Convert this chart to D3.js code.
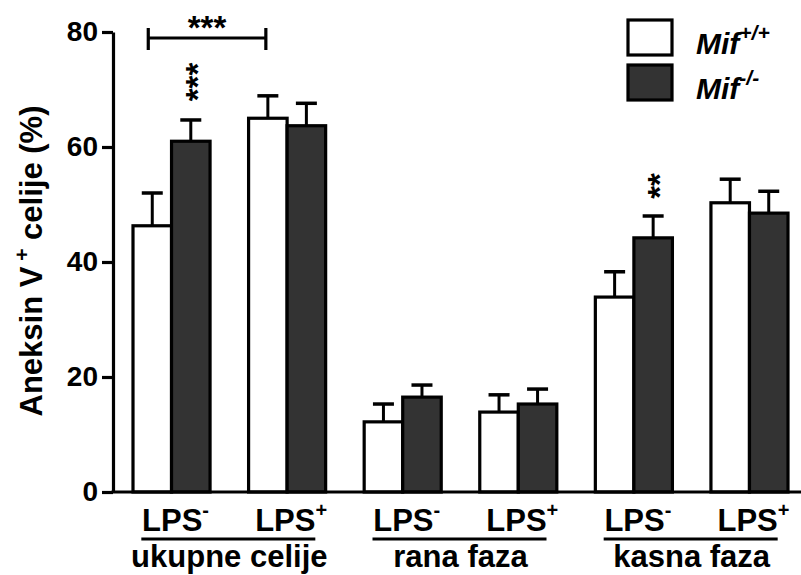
<!DOCTYPE html>
<html>
<head>
<meta charset="utf-8">
<script src="https://cdn.jsdelivr.net/npm/d3@7"></script>
<style>
  body { margin: 0; background: #fff; }
  text { font-family: "Liberation Sans", Arial, sans-serif; }
</style>
</head>
<body>
<svg id="chart" width="801" height="575"></svg>
<script>
"use strict";

// groups and conditions as in the figure
const groups = ["ukupne celije", "rana faza", "kasna faza"];
const conditions = ["-", "+"];
const genotypes = ["Mif+/+", "Mif-/-"];

// mean values per bar (group x LPS x genotype)
const meanWT = [46.3, 65.0, 12.2, 13.9, 33.9, 50.3];
const meanKO = [61.0, 63.7, 16.5, 15.3, 44.2, 48.5];
// upper end of error bars
const errWT = [52.0, 68.9, 15.3, 16.9, 38.3, 54.4];
const errKO = [64.7, 67.6, 18.6, 17.9, 48.0, 52.3];

const yTicks = [0, 20, 40, 60, 80];

// significance marks: [slot index, genotype, label]
const sigMarks = [[0, 1, "***"], [4, 1, "**"]];

let svg = d3.select("svg#chart"),
    width = +svg.attr("width");

let slots = [];
groups.forEach((g, gi) => conditions.forEach((c, ci) => {
    let i = gi * 2 + ci;
    slots.push({ id: i, group: g, lps: c, values: [
        { geno: 0, mean: meanWT[i], err: errWT[i] },
        { geno: 1, mean: meanKO[i], err: errKO[i] }
    ]});
}));

let y = d3.scaleLinear().domain([0, 80]).range([492, 32]);

let x = d3.scaleBand()
    .domain(slots.map(d => d.id))
    .range([133, 788])
    .paddingInner(1 / 3)
    .paddingOuter(0);

let xg = d3.scaleBand()
    .domain([0, 1])
    .range([0, x.bandwidth()]);

// bars
let slotG = svg.selectAll("g.slot")
    .data(slots)
    .enter().append("g")
        .attr("class", "slot")
        .attr("transform", d => "translate(" + x(d.id) + ",0)");

// error bars first, so bar outlines cover them
slotG.selectAll("g.err")
    .data(d => d.values)
    .enter().append("g")
        .attr("class", "err")
        .each(function(d) {
            let cx = xg(d.geno) + xg.bandwidth() / 2;
            let g = d3.select(this);
            g.append("line")
                .attr("x1", cx).attr("x2", cx)
                .attr("y1", y(d.mean)).attr("y2", y(d.err))
                .attr("stroke", "#000").attr("stroke-width", 3);
            g.append("line")
                .attr("x1", cx - 10.5).attr("x2", cx + 10.5)
                .attr("y1", y(d.err)).attr("y2", y(d.err))
                .attr("stroke", "#000").attr("stroke-width", 3.5);
        });

slotG.selectAll("rect")
    .data(d => d.values)
    .enter().append("rect")
        .attr("x", d => xg(d.geno))
        .attr("y", d => y(d.mean))
        .attr("width", xg.bandwidth())
        .attr("height", d => y(0) - y(d.mean))
        .attr("fill", d => d.geno ? "#333333" : "#ffffff")
        .attr("stroke", "#000")
        .attr("stroke-width", 3.2);

// y axis
let yAxis = svg.append("g")
    .attr("transform", "translate(113,0)")
    .call(d3.axisLeft(y).tickValues(yTicks).tickSize(11).tickPadding(4).tickSizeOuter(0));
yAxis.select(".domain").attr("stroke-width", 3.2);
yAxis.selectAll(".tick line").attr("stroke-width", 3.2);
yAxis.selectAll(".tick text")
    .attr("font-size", 28).attr("font-weight", "bold")
    .style("font-family", "Liberation Sans, Arial, sans-serif")
    .attr("fill", "#000");

// x axis line
svg.append("line")
    .attr("x1", 111.5).attr("x2", width)
    .attr("y1", y(0)).attr("y2", y(0))
    .attr("stroke", "#000").attr("stroke-width", 3.2);

// y title
let yt = svg.append("text")
    .attr("transform", "translate(42,261) rotate(-90)")
    .attr("text-anchor", "middle")
    .attr("font-size", 31).attr("font-weight", "bold");
yt.append("tspan").text("Aneksin V");
yt.append("tspan").attr("font-size", 21).attr("dy", -13).text(" +");
yt.append("tspan").attr("dy", 13).text(" celije (%)");

// LPS labels
let lpsT = svg.selectAll("text.lps")
    .data(slots)
    .enter().append("text")
        .attr("class", "lps")
        .attr("x", d => x(d.id) + x.bandwidth() / 2 + 4)
        .attr("y", 531)
        .attr("text-anchor", "middle")
        .attr("font-size", 31).attr("font-weight", "bold");
lpsT.append("tspan").text("LPS");
lpsT.append("tspan").attr("font-size", 20).attr("dy", -14).text(d => d.lps);

// group underlines and labels
groups.forEach((g, gi) => {
    let cx = (x(gi * 2) + x(gi * 2 + 1) + x.bandwidth()) / 2;
    svg.append("line")
        .attr("x1", cx - 88).attr("x2", cx + 86)
        .attr("y1", 539).attr("y2", 539)
        .attr("stroke", "#000").attr("stroke-width", 3.2);
    svg.append("text")
        .attr("x", cx).attr("y", 567)
        .attr("text-anchor", "middle")
        .attr("font-size", 31).attr("font-weight", "bold")
        .text(g);
});

// bracket between ukupne LPS- and LPS+ (wild type)
let bx1 = x(0) + xg(0) + xg.bandwidth() / 2 - 4,
    bx2 = x(1) + xg(0) + xg.bandwidth() / 2 - 2,
    by = 38;
svg.append("path")
    .attr("d", "M" + bx1 + "," + (by - 10) + "V" + (by + 12) + "M" + bx1 + "," + by + "H" + bx2 +
               "M" + bx2 + "," + (by - 10) + "V" + (by + 12))
    .attr("fill", "none").attr("stroke", "#000").attr("stroke-width", 3.2);
svg.append("text")
    .attr("x", (bx1 + bx2) / 2).attr("y", 39)
    .attr("text-anchor", "middle")
    .attr("font-size", 33).attr("font-weight", "bold")
    .text("***");

// rotated stars above bars
sigMarks.forEach(([slot, geno, label]) => {
    let cx = x(slot) + xg(geno) + xg.bandwidth() / 2;
    let d = slots[slot].values[geno];
    let cy = y(d.err) - 14 - label.length * 8;
    svg.append("text")
        .attr("transform", "translate(" + (cx + 18) + "," + cy + ") rotate(-90)")
        .attr("text-anchor", "middle")
        .attr("font-size", 33).attr("font-weight", "bold")
        .text(label);
});

// legend
let legend = svg.append("g").attr("transform", "translate(628,20)");
genotypes.forEach((gname, i) => {
    let row = legend.append("g").attr("transform", "translate(0," + (i * 45) + ")");
    row.append("rect")
        .attr("width", 44).attr("height", 35)
        .attr("fill", i ? "#333333" : "#ffffff")
        .attr("stroke", "#000").attr("stroke-width", 3.2);
    let t = row.append("text")
        .attr("x", 68).attr("y", 34)
        .attr("font-size", 30).attr("font-weight", "bold").attr("font-style", "italic");
    t.append("tspan").text("Mif");
    t.append("tspan").attr("font-size", 21).attr("dy", -14).text(gname.slice(3));
});
</script>
</body>
</html>
